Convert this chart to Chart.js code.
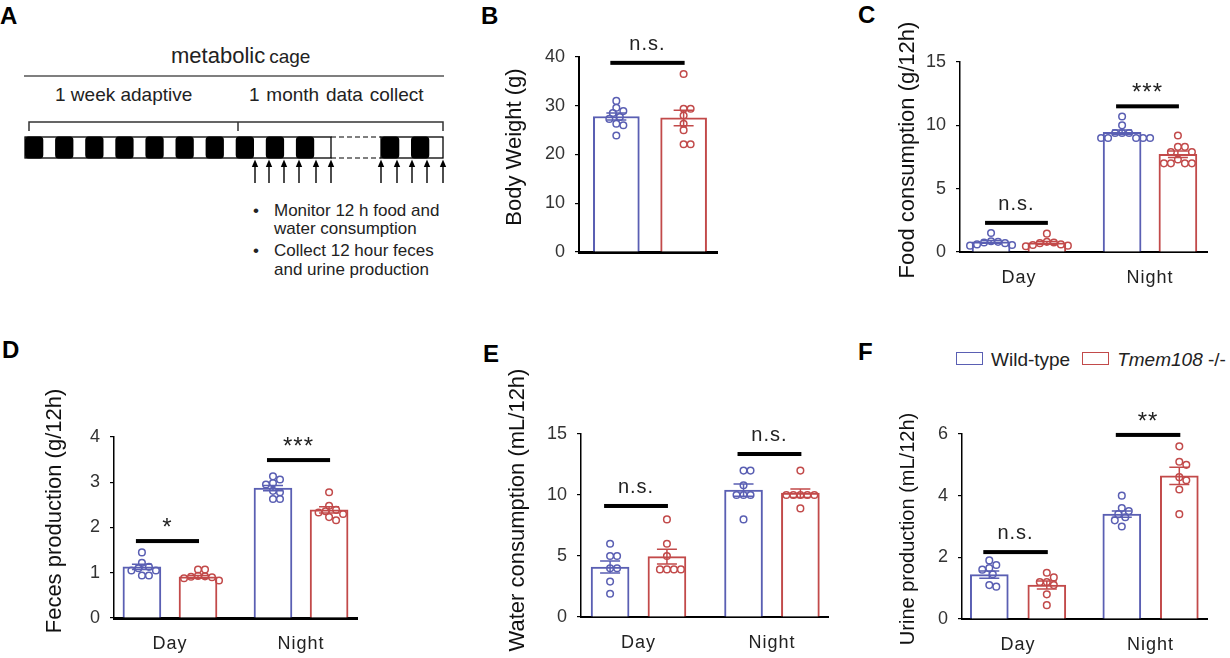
<!DOCTYPE html>
<html>
<head>
<meta charset="utf-8">
<script src="https://cdn.jsdelivr.net/npm/chart.js@4.4.1/dist/chart.umd.min.js"></script>
<style>
  body { margin: 0; width: 1230px; height: 658px; overflow: hidden; position: relative; background: #fff;
         font-family: "Liberation Sans", Arial, sans-serif; }
  canvas { position: absolute; }
  .letter { position: absolute; font-weight: bold; font-size: 24px; line-height: 24px; color: #000; }
  .legend { position: absolute; left: 956px; top: 347px; font-size: 19px; line-height: 26px; color: #222; white-space: nowrap; }
  .legend span.box { display: inline-block; width: 25px; height: 11px; border: 1.5px solid; vertical-align: 1px; margin-right: 8px; }
  #schema { position: absolute; left: 0; top: 0; }
</style>
</head>
<body>
<div class="letter" style="left:0px;top:4px">A</div>
<div class="letter" style="left:481px;top:4px">B</div>
<div class="letter" style="left:858px;top:3px">C</div>
<div class="letter" style="left:2px;top:338px">D</div>
<div class="letter" style="left:483px;top:342px">E</div>
<div class="letter" style="left:858px;top:340px">F</div>

<svg id="schema" width="460" height="300" font-family="Liberation Sans, Arial, sans-serif">
  <text x="171" y="63" fill="#222"><tspan font-size="22">metabolic</tspan><tspan font-size="19" dx="4">cage</tspan></text>
  <line x1="24" y1="76" x2="444" y2="76" stroke="#555" stroke-width="1.5"/>
  <text x="55" y="101" font-size="19" fill="#222">1 week adaptive</text>
  <text x="249" y="101" font-size="19" fill="#222" word-spacing="1.5">1 month data collect</text>
  <path d="M29,131 V122 H443 V131 M238,122 V131" fill="none" stroke="#333" stroke-width="1.5"/>
  <g id="timeline"></g>
  <g id="arrows"></g>
  <g font-size="17" fill="#222">
    <text x="253" y="216">•</text>
    <text x="274" y="216">Monitor 12 h food and</text>
    <text x="274" y="234">water consumption</text>
    <text x="253" y="256">•</text>
    <text x="274" y="256">Collect 12 hour feces</text>
    <text x="274" y="275">and urine production</text>
  </g>
</svg>

<div class="legend" id="legend"></div>

<script>
const FONT = '"Liberation Sans", Arial, sans-serif';
const BLUE = '#5a5fb3';
const RED = '#c24a4a';

const periods = ['Day', 'Night'];
const genotypes = ['Wild-type', 'Tmem108 -/-'];

// B: body weight (g), one group
const weightWTMean = [27.8];
const weightKOMean = [27.5];
const weightWTSem = [0.7];
const weightKOSem = [1.6];
const weightWTPoints = [[31, 29.6, 28.9, 28.5, 27.7, 27.3, 26.3, 26, 23.9]];
const weightKOPoints = [[36.5, 29.4, 29.4, 28, 26.3, 25, 22.1, 22.1]];
const weightSig = ['n.s.'];
const weightSigY = [38.8];

// C: food consumption (g/12h), [Day, Night]
const foodWTMean = [0.8, 9.45];
const foodKOMean = [0.72, 7.72];
const foodWTSem = [0.1, 0.18];
const foodKOSem = [0.1, 0.25];
const foodWTPoints = [[1.5, 0.85, 0.8, 0.75, 0.7, 0.6, 0.55, 0.5], [10.7, 10.0, 9.4, 9.4, 9.4, 9.0, 9.0, 9.0, 9.0, 9.0]];
const foodKOPoints = [[1.45, 0.8, 0.75, 0.7, 0.6, 0.55, 0.5, 0.45], [9.2, 8.3, 8.3, 7.9, 7.9, 7.3, 7.0, 7.0, 7.0, 7.0]];
const foodSig = ['n.s.', '***'];
const foodSigY = [2.3, 11.5];

// D: feces production (g/12h)
const fecesWTMean = [1.13, 2.87];
const fecesKOMean = [0.91, 2.39];
const fecesWTSem = [0.06, 0.06];
const fecesKOSem = [0.03, 0.07];
const fecesWTPoints = [[1.45, 1.22, 1.13, 1.1, 1.05, 1.05, 0.94, 0.94], [3.13, 3.06, 2.98, 2.95, 2.81, 2.78, 2.63, 2.63]];
const fecesKOPoints = [[1.07, 1.07, 0.93, 0.92, 0.91, 0.9, 0.88, 0.83], [2.78, 2.48, 2.39, 2.36, 2.33, 2.3, 2.16, 2.23]];
const fecesSig = ['*', '***'];
const fecesSigY = [1.7, 3.49];

// E: water consumption (mL/12h)
const waterWTMean = [4.1, 10.4];
const waterKOMean = [4.95, 10.15];
const waterWTSem = [0.5, 0.5];
const waterKOSem = [0.6, 0.35];
const waterWTPoints = [[6.0, 5.0, 5.0, 4.0, 4.0, 2.9, 1.9], [12, 12, 10.8, 10, 10, 10, 8]];
const waterKOPoints = [[8.0, 6.0, 5.0, 3.9, 3.9, 3.9, 3.9], [12, 10, 10, 10, 10, 10, 8.9]];
const waterSig = ['n.s.', 'n.s.'];
const waterSigY = [9.1, 13.36];

// F: urine production (mL/12h)
const urineWTMean = [1.44, 3.4];
const urineKOMean = [1.1, 4.64];
const urineWTSem = [0.12, 0.1];
const urineKOSem = [0.13, 0.28];
const urineWTPoints = [[1.9, 1.75, 1.65, 1.6, 1.45, 1.1, 1.05], [4.0, 3.6, 3.5, 3.4, 3.3, 3.2, 3.0]];
const urineKOPoints = [[1.5, 1.35, 1.2, 1.2, 1.1, 0.8, 0.45], [5.6, 5.1, 5.0, 4.6, 4.5, 4.2, 3.4]];
const urineSig = ['n.s.', '**'];
const urineSigY = [2.17, 5.97];

Chart.defaults.font.family = FONT;

// schematic of panel A
(function drawSchema() {
  const ns = 'http://www.w3.org/2000/svg';
  const tl = document.getElementById('timeline');
  const add = (parent, tag, attrs) => {
    const el = document.createElementNS(ns, tag);
    for (const k in attrs) el.setAttribute(k, attrs[k]);
    parent.appendChild(el);
  };
  add(tl, 'rect', { x: 25, y: 137, width: 306, height: 21, fill: '#fff', stroke: '#000', 'stroke-width': 1.3 });
  add(tl, 'rect', { x: 381, y: 137, width: 62, height: 21, fill: '#fff', stroke: '#000', 'stroke-width': 1.3 });
  add(tl, 'path', { d: 'M331,137 H381 M331,158 H381', stroke: '#000', 'stroke-width': 1.2, 'stroke-dasharray': '5,3' });
  const blocks = [];
  for (let i = 0; i < 10; i++) blocks.push(25 + 30.1 * i);
  blocks.push(381, 411);
  blocks.forEach(x => add(tl, 'rect', { x, y: 136.5, width: 18.3, height: 22, rx: 3.5, fill: '#000' }));
  const ar = document.getElementById('arrows');
  [255, 269, 284, 299, 316, 331, 381, 397, 412, 427, 443].forEach(x => {
    add(ar, 'line', { x1: x, y1: 183, x2: x, y2: 165, stroke: '#000', 'stroke-width': 1.4 });
    add(ar, 'path', { d: `M${x - 3.2},167 L${x + 3.2},167 L${x},159.5 Z`, fill: '#000' });
  });
})();

// legend for the genotypes
document.getElementById('legend').innerHTML =
  `<span class="box" style="border-color:${BLUE}"></span>${genotypes[0]}` +
  `<span class="box" style="border-color:${RED};margin-left:12px"></span><i>Tmem108</i> -/-`;

// spread points of one group sideways so circles do not overlap much
function swarm(vals, pxY) {
  const placed = [];
  return [...vals].sort((a, b) => b - a).map(v => {
    const py = v * pxY;
    for (let k = 0; k < 40; k++) {
      const cands = k === 0 ? [0] : [k * 3.5, -k * 3.5];
      for (const dx of cands) {
        if (placed.every(q => Math.hypot(q.dx - dx, q.py - py) >= 6.2)) {
          placed.push({ dx, py });
          return { v, dx };
        }
      }
    }
    return { v, dx: 0 };
  });
}

// a little extra spacing between characters of a scale's labels
function spaceLabels(scale, px) {
  if (scale._spaced) return;
  const orig = scale.drawLabels.bind(scale);
  scale.drawLabels = area => {
    scale.ctx.save();
    scale.ctx.letterSpacing = px + 'px';
    orig(area);
    scale.ctx.restore();
  };
  scale._spaced = true;
}

const errorBarPlugin = {
  id: 'errorBars',
  afterDatasetsDraw(chart, args, opts) {
    const { ctx, scales: { x, y } } = chart;
    ctx.save();
    ctx.lineWidth = 1.5;
    opts.series.forEach(s => {
      s.mean.forEach((m, i) => {
        const px = x.getPixelForValue(i + 1 + s.offset);
        const top = y.getPixelForValue(m + s.sem[i]);
        const bot = y.getPixelForValue(m - s.sem[i]);
        ctx.strokeStyle = s.color;
        ctx.beginPath();
        ctx.moveTo(px, top); ctx.lineTo(px, bot);
        ctx.moveTo(px - 10, top); ctx.lineTo(px + 10, top);
        ctx.moveTo(px - 10, bot); ctx.lineTo(px + 10, bot);
        ctx.stroke();
      });
    });
    ctx.restore();
  }
};

const sigPlugin = {
  id: 'sigBars',
  afterDraw(chart, args, opts) {
    const { ctx, scales: { x, y } } = chart;
    ctx.save();
    ctx.letterSpacing = '1px';
    opts.labels.forEach((label, i) => {
      const x1 = x.getPixelForValue(i + 1 - opts.offset) - 6;
      const x2 = x.getPixelForValue(i + 1 + opts.offset) + 1;
      const py = y.getPixelForValue(opts.ys[i]);
      ctx.fillStyle = '#000';
      ctx.fillRect(x1, py - 2, x2 - x1, 4);
      const star = label.startsWith('*');
      ctx.font = (star ? '24px ' : '20px ') + FONT;
      ctx.textAlign = 'center';
      ctx.textBaseline = 'alphabetic';
      ctx.fillStyle = '#222';
      ctx.fillText(label, (x1 + x2) / 2, py - (star ? 6 : 13));
    });
    ctx.restore();
  }
};

// y axis title, placed where the figure has it
const yTitlePlugin = {
  id: 'yTitle',
  afterDraw(chart, args, opts) {
    const ctx = chart.ctx;
    ctx.save();
    ctx.translate(opts.x, opts.y);
    ctx.rotate(-Math.PI / 2);
    ctx.font = opts.size + 'px ' + FONT;
    ctx.fillStyle = '#111';
    ctx.textAlign = 'center';
    ctx.textBaseline = 'middle';
    ctx.fillText(opts.text, 0, 0);
    ctx.restore();
  }
};

function makePanel(p) {
  const [l, t, r, b] = p.area;
  const cLeft = p.titleX - 14;
  const cTop = p.canvasTop;
  const canvas = document.createElement('canvas');
  canvas.width = r + 12 - cLeft;
  canvas.height = b + 46 - cTop;
  canvas.style.left = cLeft + 'px';
  canvas.style.top = cTop + 'px';
  document.body.appendChild(canvas);

  const [xMin, xMax] = p.xRange;
  const pxX = (r - l) / (xMax - xMin);
  const pxY = (b - t) / p.yMax;
  const series = [
    { mean: p.wtMean, sem: p.wtSem, points: p.wtPoints, color: BLUE, offset: -p.offset },
    { mean: p.koMean, sem: p.koSem, points: p.koPoints, color: RED, offset: p.offset }
  ];
  const datasets = [];
  series.forEach((s, k) => {
    datasets.push({
      type: 'bar', label: genotypes[k],
      data: s.mean.map((m, i) => ({ x: i + 1 + s.offset, y: m })),
      backgroundColor: '#fff', borderColor: s.color, borderWidth: 2, borderSkipped: 'bottom',
      barThickness: p.barWidth, grouped: false, order: 2
    });
    datasets.push({
      type: 'scatter', label: genotypes[k] + ' points',
      data: s.points.flatMap((vals, i) =>
        swarm(vals, pxY).map(pt => ({ x: i + 1 + s.offset + pt.dx / pxX, y: pt.v }))),
      pointRadius: 3.3, pointBorderWidth: 1.5, borderColor: s.color,
      backgroundColor: 'rgba(255,255,255,0)', order: 1
    });
  });

  new Chart(canvas, {
    type: 'bar',
    data: { datasets },
    plugins: [errorBarPlugin, sigPlugin, yTitlePlugin],
    options: {
      responsive: false,
      maintainAspectRatio: false,
      animation: false,
      events: [],
      layout: { padding: { left: 0, top: t - cTop, right: 12, bottom: 0 } },
      plugins: {
        legend: { display: false },
        tooltip: { enabled: false },
        errorBars: { series },
        sigBars: { labels: p.sig, ys: p.sigY, offset: p.offset },
        yTitle: { text: p.yTitle, size: p.titleSize, x: p.titleX - cLeft, y: p.titleY - cTop }
      },
      scales: {
        x: {
          type: 'linear', min: xMin, max: xMax, offset: false,
          afterBuildTicks: s => { s.ticks = p.wtMean.map((_, i) => ({ value: i + 1 })); },
          afterFit: s => { s.height = 46; spaceLabels(s, 1); },
          ticks: {
            display: p.catLabels.length > 0,
            callback: (v, i) => p.catLabels[i],
            color: '#222', font: { size: 18 }, padding: 15
          },
          grid: { display: false, drawTicks: false },
          border: { color: '#000', width: p.xBorder }
        },
        y: {
          min: 0, max: p.yMax,
          afterFit: s => { s.width = l - cLeft; },
          ticks: { stepSize: p.yStep, color: '#333', font: { size: 18 }, padding: 10 },
          grid: { drawOnChartArea: false, drawTicks: true, tickLength: 4, color: '#000', lineWidth: 1.2 },
          border: { color: '#000', width: p.yBorder }
        }
      }
    }
  });
}

makePanel({
  area: [579, 57, 717, 252], canvasTop: 20, titleX: 515, titleY: 147, titleSize: 22, yTitle: 'Body Weight (g)',
  yMax: 40, yStep: 10, xRange: [0.462, 1.508], offset: 0.255, barWidth: 46, catLabels: [],
  xBorder: 3, yBorder: 2,
  wtMean: weightWTMean, koMean: weightKOMean, wtSem: weightWTSem, koSem: weightKOSem,
  wtPoints: weightWTPoints, koPoints: weightKOPoints, sig: weightSig, sigY: weightSigY
});
makePanel({
  area: [960, 62, 1207, 252], canvasTop: 8, titleX: 908, titleY: 150, titleSize: 22, yTitle: 'Food consumption (g/12h)',
  yMax: 15, yStep: 5, xRange: [0.55, 2.435], offset: 0.213, barWidth: 38, catLabels: periods,
  xBorder: 2, yBorder: 1.5,
  wtMean: foodWTMean, koMean: foodKOMean, wtSem: foodWTSem, koSem: foodKOSem,
  wtPoints: foodWTPoints, koPoints: foodKOPoints, sig: foodSig, sigY: foodSigY
});
makePanel({
  area: [114, 437, 357, 618], canvasTop: 375, titleX: 55, titleY: 511, titleSize: 22, yTitle: 'Feces production (g/12h)',
  yMax: 4, yStep: 1, xRange: [0.573, 2.427], offset: 0.214, barWidth: 38, catLabels: periods,
  xBorder: 3, yBorder: 1.5,
  wtMean: fecesWTMean, koMean: fecesKOMean, wtSem: fecesWTSem, koSem: fecesKOSem,
  wtPoints: fecesWTPoints, koPoints: fecesKOPoints, sig: fecesSig, sigY: fecesSigY
});
makePanel({
  area: [581, 434, 828, 617], canvasTop: 355, titleX: 518, titleY: 510, titleSize: 22, yTitle: 'Water consumption (mL/12h)',
  yMax: 15, yStep: 5, xRange: [0.569, 2.42], offset: 0.213, barWidth: 38, catLabels: periods,
  xBorder: 2, yBorder: 1.5,
  wtMean: waterWTMean, koMean: waterKOMean, wtSem: waterWTSem, koSem: waterKOSem,
  wtPoints: waterWTPoints, koPoints: waterKOPoints, sig: waterSig, sigY: waterSigY
});
makePanel({
  area: [962, 434, 1207, 619], canvasTop: 385, titleX: 908, titleY: 529, titleSize: 20, yTitle: 'Urine production (mL/12h)',
  yMax: 6, yStep: 2, xRange: [0.577, 2.426], offset: 0.217, barWidth: 38, catLabels: periods,
  xBorder: 2, yBorder: 1.5,
  wtMean: urineWTMean, koMean: urineKOMean, wtSem: urineWTSem, koSem: urineKOSem,
  wtPoints: urineWTPoints, koPoints: urineKOPoints, sig: urineSig, sigY: urineSigY
});
</script>
</body>
</html>
